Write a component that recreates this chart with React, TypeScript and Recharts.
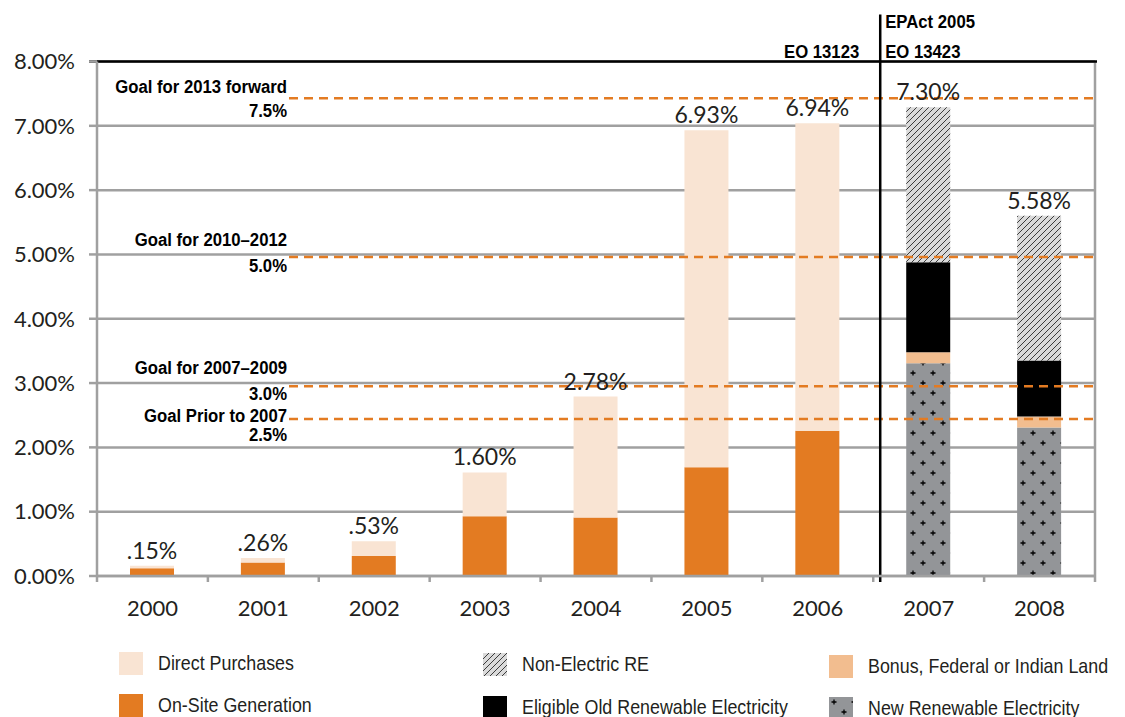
import React from "react";
import {
  Bar,
  BarChart,
  CartesianGrid,
  LabelList,
  ReferenceLine,
  XAxis,
  YAxis,
} from "recharts";

const YEARS = ["2000", "2001", "2002", "2003", "2004", "2005", "2006", "2007", "2008"];
const ON_SITE = [0.12, 0.21, 0.31, 0.93, 0.91, 1.69, 2.26, null, null];
const DIRECT = [0.04, 0.07, 0.23, 0.68, 1.88, 5.24, 4.78, null, null];
const NEW_RE = [null, null, null, null, null, null, null, 3.31, 2.31];
const BONUS = [null, null, null, null, null, null, null, 0.17, 0.17];
const OLD_RE = [null, null, null, null, null, null, null, 1.4, 0.87];
const NON_ELECTRIC = [null, null, null, null, null, null, null, 2.41, 2.25];
const TOTAL_LABELS = [".15%", ".26%", ".53%", "1.60%", "2.78%", "6.93%", "6.94%", "7.30%", "5.58%"];

const Y_TICKS = [0, 1, 2, 3, 4, 5, 6, 7, 8];

const GOAL_NAMES = ["Goal for 2013 forward", "Goal for 2010\u20132012", "Goal for 2007\u20132009", "Goal Prior to 2007"];
const GOAL_TEXT = ["7.5%", "5.0%", "3.0%", "2.5%"];
const GOAL_LEVELS = [7.43, 4.96, 2.95, 2.44];

// label nudges for each goal: [name dy, value dy] relative to the dashed line
const GOAL_DY = [
  [-10, 14],
  [-16, 10],
  [-17, 9],
  [-2, 17],
];

const ORANGE = "#e37b22";
const PEACH = "#f9e4d3";
const TAN = "#f2bd8f";
const GRID = "#a0a0a0";
const TEXT = "#231f20";
const NUM_FONT = "Lato, 'Noto Sans', sans-serif";
const SANS = "'Liberation Sans', Arial, sans-serif";
const SQUEEZE = 0.85;

const data = YEARS.map((year, i) => ({
  year,
  onSite: ON_SITE[i],
  direct: DIRECT[i],
  newRe: NEW_RE[i],
  bonus: BONUS[i],
  oldRe: OLD_RE[i],
  nonElectric: NON_ELECTRIC[i],
  labelA: DIRECT[i] != null ? TOTAL_LABELS[i] : undefined,
  labelB: NON_ELECTRIC[i] != null ? TOTAL_LABELS[i] : undefined,
}));

function Patterns() {
  return (
    <svg width="0" height="0" style={{ position: "absolute" }}>
      <defs>
        <pattern id="hatch" patternUnits="userSpaceOnUse" width="6" height="6">
          <rect width="6" height="6" fill="#dadada" />
          <path d="M0,6 L6,0 M-1,1 L1,-1 M5,7 L7,5" stroke="#2a2a2a" strokeWidth="0.9" />
        </pattern>
        <pattern id="plus" patternUnits="userSpaceOnUse" width="20" height="20">
          <rect width="20" height="20" fill="#939598" />
          <path
            d="M2.5,5 H7.5 M5,2.5 V7.5 M12.5,15 H17.5 M15,12.5 V17.5"
            stroke="#000"
            strokeWidth="1.3"
          />
        </pattern>
      </defs>
    </svg>
  );
}

// narrow bold text (squeezed Liberation Sans)
function Narrow({ x, y, anchor, children }: any) {
  return (
    <g transform={`translate(${x},${y}) scale(0.88,1)`}>
      <text
        x={0}
        y={0}
        textAnchor={anchor}
        dominantBaseline="middle"
        fontFamily={SANS}
        fontWeight="bold"
        fontSize={19}
        fill="#000"
      >
        {children}
      </text>
    </g>
  );
}

function TotalLabel(props: any) {
  const { x, y, width, value } = props;
  if (value == null || x == null) return null;
  return (
    <text
      x={x + width / 2}
      y={y - 7}
      textAnchor="middle"
      fontSize={23}
      fontFamily={NUM_FONT}
      fill={TEXT}
    >
      {value}
    </text>
  );
}

function goalShape(i: number) {
  return (props: any) => {
    const { x1, x2, y1 } = props;
    const start = x1 + 192;
    return (
      <g>
        <line
          x1={start}
          x2={x2}
          y1={y1}
          y2={y1}
          stroke={ORANGE}
          strokeWidth={2.5}
          strokeDasharray="9 6"
        />
        <Narrow x={start - 2} y={y1 + GOAL_DY[i][0]} anchor="end">
          {GOAL_NAMES[i]}
        </Narrow>
        <Narrow x={start - 2} y={y1 + GOAL_DY[i][1]} anchor="end">
          {GOAL_TEXT[i]}
        </Narrow>
      </g>
    );
  };
}

function actShape(props: any) {
  const top = Math.min(props.y1, props.y2);
  const bottom = Math.max(props.y1, props.y2);
  const x = props.x1 + 7;
  return (
    <g>
      <line x1={x} x2={x} y1={top - 47} y2={bottom + 6} stroke="#000" strokeWidth={2.5} />
      <Narrow x={x - 21} y={top - 9} anchor="end">
        EO 13123
      </Narrow>
      <Narrow x={x + 5} y={top - 39} anchor="start">
        EPAct 2005
      </Narrow>
      <Narrow x={x + 5} y={top - 9} anchor="start">
        EO 13423
      </Narrow>
    </g>
  );
}

function boundaryTick(full: boolean) {
  return (props: any) => {
    const top = Math.min(props.y1, props.y2);
    const bottom = Math.max(props.y1, props.y2);
    return (
      <line
        x1={props.x1}
        x2={props.x1}
        y1={full ? top : bottom}
        y2={bottom + 6}
        stroke={GRID}
        strokeWidth={2.5}
      />
    );
  };
}

function topBorder(props: any) {
  return (
    <line x1={props.x1 - 8} x2={props.x2 + 2} y1={props.y1} y2={props.y1} stroke="#000" strokeWidth={2.5} />
  );
}

const LEGEND = [
  { name: "Direct Purchases", fill: PEACH, left: 111, top: 643 },
  { name: "On-Site Generation", fill: ORANGE, left: 111, top: 685 },
  { name: "Non-Electric RE", fill: "url(#hatch)", left: 475, top: 644 },
  { name: "Eligible Old Renewable Electricity", fill: "#000", left: 475, top: 687 },
  { name: "Bonus, Federal or Indian Land", fill: TAN, left: 821, top: 646 },
  { name: "New Renewable Electricity", fill: "url(#plus)", left: 821, top: 688 },
];

function Legend() {
  return (
    <>
      {LEGEND.map((item) => (
        <div
          key={item.name}
          style={{
            position: "absolute",
            left: item.left,
            top: item.top,
            display: "flex",
            alignItems: "center",
            fontFamily: SANS,
            fontSize: 21,
            color: TEXT,
            whiteSpace: "nowrap",
          }}
        >
          <svg width={24} height={23} style={{ marginRight: 15 }}>
            <rect width={24} height={23} fill={item.fill} />
          </svg>
          <span style={{ display: "inline-block", transform: `scaleX(${SQUEEZE})`, transformOrigin: "left center" }}>
            {item.name}
          </span>
        </div>
      ))}
    </>
  );
}

export default function App() {
  return (
    <div style={{ position: "relative", width: 1109, height: 709 }}>
      <Patterns />
      <BarChart
        width={1109}
        height={650}
        data={data}
        margin={{ top: 53.5, right: 22, left: 0, bottom: 0 }}
        barSize={44}
      >
        <CartesianGrid vertical={false} stroke={GRID} strokeWidth={2.5} />
        <XAxis
          dataKey="year"
          height={82}
          tickLine={false}
          tickSize={6}
          tickMargin={18}
          axisLine={{ stroke: GRID, strokeWidth: 2.5 }}
          tick={{ fontSize: 22, fontFamily: NUM_FONT, fill: TEXT }}
        />
        <YAxis
          width={89}
          domain={[0, 8]}
          ticks={Y_TICKS}
          interval={0}
          tickSize={8}
          tickMargin={14}
          tickFormatter={(v: number) => `${v.toFixed(2)}%`}
          axisLine={{ stroke: GRID, strokeWidth: 2.5 }}
          tickLine={{ stroke: GRID, strokeWidth: 2.5 }}
          tick={{ fontSize: 22, fontFamily: NUM_FONT, fill: TEXT }}
        />

        <Bar dataKey="onSite" stackId="a" fill={ORANGE} isAnimationActive={false} />
        <Bar dataKey="direct" stackId="a" fill={PEACH} isAnimationActive={false}>
          <LabelList dataKey="labelA" content={TotalLabel} />
        </Bar>
        <Bar dataKey="newRe" stackId="a" fill="url(#plus)" isAnimationActive={false} />
        <Bar dataKey="bonus" stackId="a" fill={TAN} isAnimationActive={false} />
        <Bar dataKey="oldRe" stackId="a" fill="#000" isAnimationActive={false} />
        <Bar dataKey="nonElectric" stackId="a" fill="url(#hatch)" isAnimationActive={false}>
          <LabelList dataKey="labelB" content={TotalLabel} />
        </Bar>

        {/* category boundary ticks below the axis, right border */}
        {YEARS.map((y) => (
          <ReferenceLine key={`b${y}`} x={y} position="start" shape={boundaryTick(false)} />
        ))}
        <ReferenceLine x={YEARS[YEARS.length - 1]} position="end" shape={boundaryTick(true)} />
        <ReferenceLine y={8} shape={topBorder} />

        {GOAL_LEVELS.map((g, i) => (
          <ReferenceLine key={`g${i}`} y={g} shape={goalShape(i)} />
        ))}

        <ReferenceLine x="2007" position="start" shape={actShape} />
      </BarChart>
      <Legend />
    </div>
  );
}
